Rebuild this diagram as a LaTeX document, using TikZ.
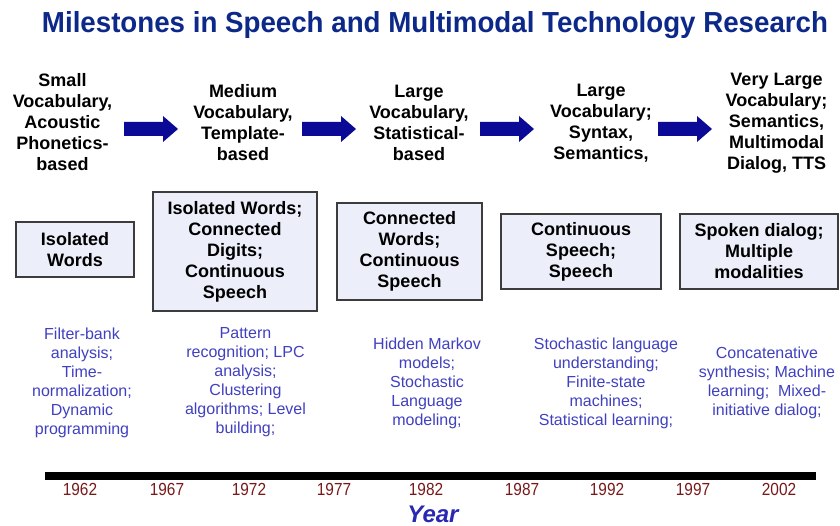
\documentclass[tikz,border=0pt]{standalone}
\usepackage{graphicx}
\usepackage{fontspec}
\setmainfont{Liberation Sans}
\newfontfamily\narrowsans[FakeStretch=0.88]{Liberation Sans}
\definecolor{titleblue}{RGB}{12,40,136}
\definecolor{arrowblue}{RGB}{10,10,150}
\definecolor{descblue}{RGB}{64,64,192}
\definecolor{yearred}{RGB}{120,24,24}
\definecolor{boxfill}{RGB}{236,238,250}
\definecolor{boxline}{RGB}{60,60,60}
\definecolor{yearblue}{RGB}{40,40,180}
\tikzset{
  stage/.style={align=center, inner sep=0pt, font=\bfseries\fontsize{18}{21}\selectfont},
  mbox/.style={draw=boxline, line width=1.2pt, fill=boxfill, align=center, inner sep=0pt,
    font=\bfseries\fontsize{18}{21}\selectfont},
  desc/.style={align=center, inner sep=0pt, text=descblue, font=\fontsize{16}{19}\selectfont},
  yr/.style={inner sep=0pt, text=yearred, font=\narrowsans\fontsize{17.5}{20}\selectfont},
  blockarrow/.pic={\fill[arrowblue] (0,-7) -- (39,-7) -- (39,-13) -- (54,0) -- (39,13) -- (39,7) -- (0,7) -- cycle;}
}
\begin{document}
\begin{tikzpicture}[x=1pt,y=-1pt]
\useasboundingbox (0,0) rectangle (840,526);
% title
\node[anchor=base, inner sep=0pt, text=titleblue] (title) at (435,33)
  {\resizebox{786pt}{21pt}{\bfseries Milestones in Speech and Multimodal Technology Research}};
% stages
\node[stage] (s1) at (62.5,122.5) {Small\\Vocabulary,\\Acoustic\\Phonetics-\\based};
\node[stage] (s2) at (243,123) {Medium\\Vocabulary,\\Template-\\based};
\node[stage] (s3) at (419,123) {Large\\Vocabulary,\\Statistical-\\based};
\node[stage] (s4) at (601,123) {Large\\Vocabulary;\\Syntax,\\Semantics,};
\node[stage] (s5) at (776.5,123) {Very Large\\Vocabulary;\\Semantics,\\Multimodal\\Dialog, TTS};
% arrows
\pic at (124,129) {blockarrow};
\pic at (302,129) {blockarrow};
\pic at (480,129) {blockarrow};
\pic at (658,129) {blockarrow};
% boxes
\node[mbox, minimum width=118pt, minimum height=55pt] (b1) at (75,249.5) {Isolated\\Words};
\node[mbox, minimum width=164pt, minimum height=119pt] (b2) at (235,251.5) {Isolated Words;\\Connected\\Digits;\\Continuous\\Speech};
\node[mbox, minimum width=145pt, minimum height=97pt] (b3) at (409.5,251.5) {Connected\\Words;\\Continuous\\Speech};
\node[mbox, minimum width=160pt, minimum height=75pt] (b4) at (581,251.5) {Continuous\\Speech;\\Speech};
\node[mbox, minimum width=158pt, minimum height=75pt] (b5) at (759,251.5) {Spoken dialog;\\Multiple\\modalities};
% descriptions
\node[desc] (d1) at (82,382.5) {Filter-bank\\analysis;\\Time-\\normalization;\\Dynamic\\programming};
\node[desc] (d2) at (245.5,382.5) {Pattern\\recognition; LPC\\analysis;\\Clustering\\algorithms; Level\\building;};
\node[desc] (d3) at (427,383) {Hidden Markov\\models;\\Stochastic\\Language\\modeling;};
\node[desc] (d4) at (606,383) {Stochastic language\\understanding;\\Finite-state\\machines;\\Statistical learning;};
\node[desc] (d5) at (767,382.5) {Concatenative\\synthesis; Machine\\learning;\ \ Mixed-\\initiative dialog;};
% timeline
\fill[black] (45,472) rectangle (816,480);
\node[yr] (y1) at (80,489.5) {1962};
\node[yr] (y2) at (167,489.5) {1967};
\node[yr] (y3) at (249,489.5) {1972};
\node[yr] (y4) at (334,489.5) {1977};
\node[yr] (y5) at (426,489.5) {1982};
\node[yr] (y6) at (522,489.5) {1987};
\node[yr] (y7) at (607,489.5) {1992};
\node[yr] (y8) at (693,489.5) {1997};
\node[yr] (y9) at (779,489.5) {2002};
\node[inner sep=0pt, text=yearblue, font=\bfseries\itshape\fontsize{24}{28}\selectfont] (year) at (433,514) {Year};
\end{tikzpicture}
\end{document}
